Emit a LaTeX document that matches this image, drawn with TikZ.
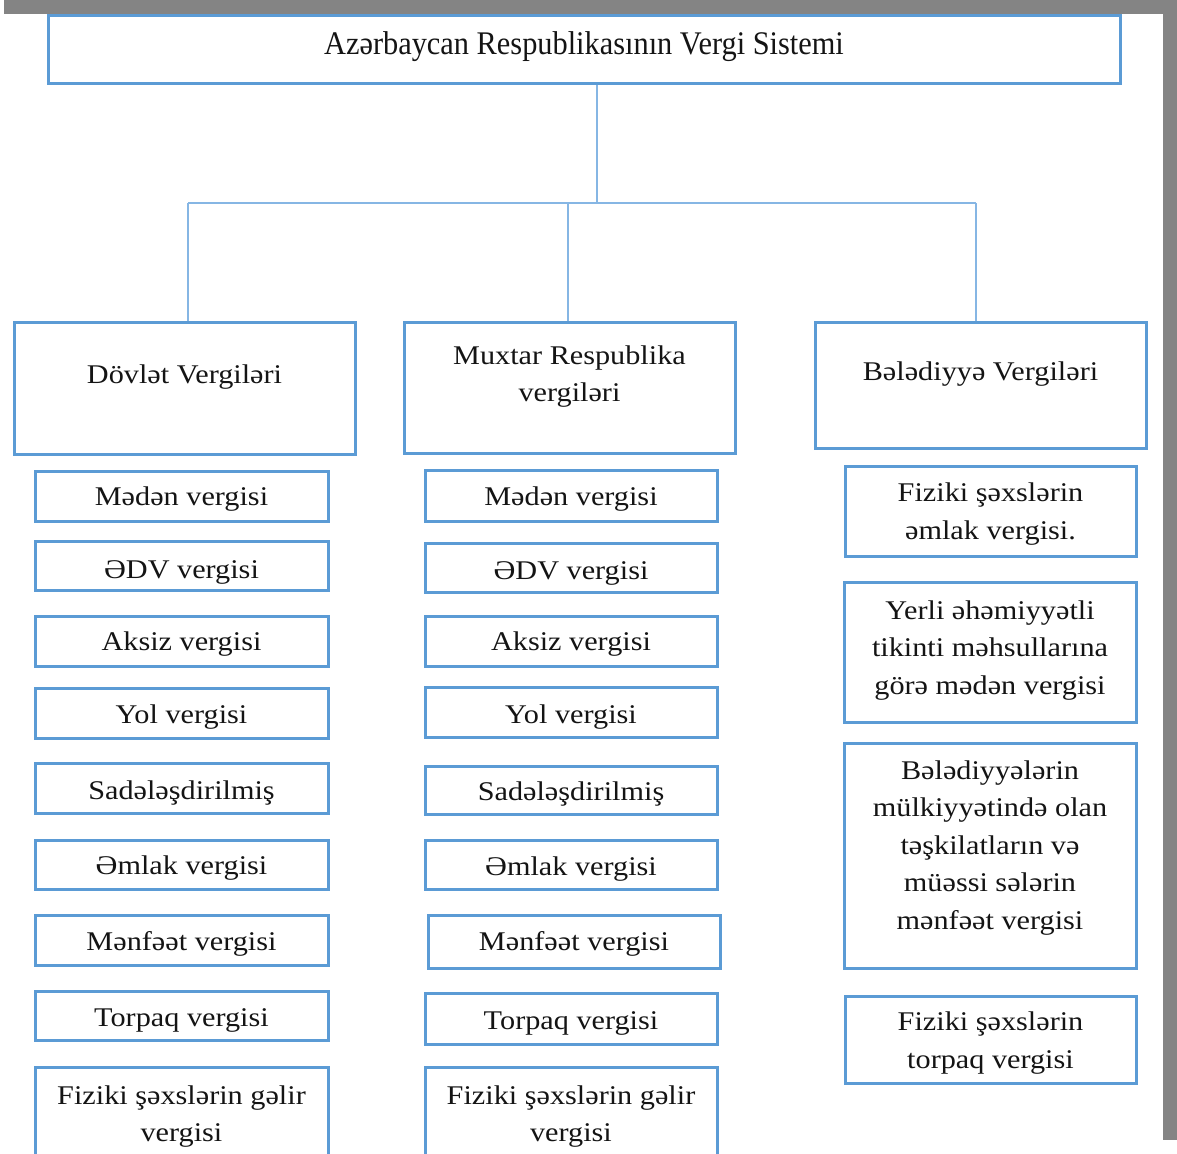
\documentclass[tikz,border=0pt]{standalone}
\usepackage{fontspec}
\setmainfont{Liberation Serif}
\newfontfamily\boxfont[FakeStretch=1.12]{Liberation Serif}
\newfontfamily\titlefont[FakeStretch=0.92]{Liberation Serif}
\definecolor{bxblue}{HTML}{5B9BD5}
\definecolor{lnblue}{HTML}{86B6E4}
\definecolor{framegray}{HTML}{848484}
\definecolor{ink}{HTML}{141414}
\tikzset{
  bx/.style={draw=bxblue, line width=3pt, fill=white, inner sep=0pt},
  txt/.style={text=ink, align=center, inner sep=0pt,
    font=\boxfont\fontsize{27}{37.5}\selectfont},
  ttl/.style={text=ink, align=center, inner sep=0pt,
    font=\titlefont\fontsize{33}{40}\selectfont},
  conn/.style={draw=lnblue, line width=2pt},
}
\newcommand\boxat[5]{%
  \pgfmathsetmacro\bw{#4-#2}\pgfmathsetmacro\bh{#5-#3}%
  \pgfmathsetmacro\bcx{(#2+#4)/2}\pgfmathsetmacro\bcy{(#3+#5)/2}%
  \node[bx, minimum width=\bw pt, minimum height=\bh pt] (#1) at (\bcx,\bcy) {};}
\newcommand\textat[3]{\node[txt] (#1-t) at (#1.center |- 0,#2+3) {#3};}
\begin{document}
\begin{tikzpicture}[x=1pt,y=-1pt]
\useasboundingbox (0,0) rectangle (1177,1153);
\clip (0,0) rectangle (1177,1153);
\fill[white] (0,0) rectangle (1177,1153);
\fill[framegray] (4,0) rectangle (1177,14);
\fill[framegray] (1163,0) rectangle (1177,1140);

% title
\boxat{title}{48}{16}{1120}{84}
\node[ttl] (title-t) at (584,47) {Azərbaycan Respublikasının Vergi Sistemi};

% headers
\boxat{dov}{14}{322}{355}{454}
\textat{dov}{374}{Dövlət Vergiləri}
\boxat{mux}{404}{322}{735}{453}
\textat{mux}{373.5}{Muxtar Respublika\\vergiləri}
\boxat{bel}{815}{322}{1146}{448}
\textat{bel}{371}{Bələdiyyə Vergiləri}

% connectors
\coordinate (hub) at (597,203);
\coordinate (jl) at (188,203);
\coordinate (jm) at (568,203);
\coordinate (jr) at (976,203);
\draw[conn] (hub |- title.south) -- (hub);
\draw[conn] (jl) -- (jr);
\draw[conn] (jl) -- (jl |- dov.north);
\draw[conn] (jm) -- (jm |- mux.north);
\draw[conn] (jr) -- (jr |- bel.north);

% left column
\boxat{l1}{35}{471}{328}{521}   \textat{l1}{496}{Mədən vergisi}
\boxat{l2}{35}{541}{328}{590}   \textat{l2}{569}{ƏDV vergisi}
\boxat{l3}{35}{616}{328}{666}   \textat{l3}{641}{Aksiz vergisi}
\boxat{l4}{35}{688}{328}{738}   \textat{l4}{714}{Yol vergisi}
\boxat{l5}{35}{763}{328}{813}   \textat{l5}{790}{Sadələşdirilmiş}
\boxat{l6}{35}{840}{328}{889}   \textat{l6}{865}{Əmlak vergisi}
\boxat{l7}{35}{915}{328}{965}   \textat{l7}{941}{Mənfəət vergisi}
\boxat{l8}{35}{991}{328}{1040}  \textat{l8}{1017}{Torpaq vergisi}
\boxat{l9}{35}{1067}{328}{1172} \textat{l9}{1113.5}{Fiziki şəxslərin gəlir\\vergisi}

% middle column
\boxat{m1}{425}{470}{717}{521}   \textat{m1}{496}{Mədən vergisi}
\boxat{m2}{425}{543}{717}{592}   \textat{m2}{570}{ƏDV vergisi}
\boxat{m3}{425}{616}{717}{666}   \textat{m3}{641}{Aksiz vergisi}
\boxat{m4}{425}{687}{717}{737}   \textat{m4}{714}{Yol vergisi}
\boxat{m5}{425}{766}{717}{814}   \textat{m5}{791}{Sadələşdirilmiş}
\boxat{m6}{425}{840}{717}{889}   \textat{m6}{866}{Əmlak vergisi}
\boxat{m7}{428}{915}{720}{968}   \textat{m7}{941}{Mənfəət vergisi}
\boxat{m8}{425}{993}{717}{1044}  \textat{m8}{1020}{Torpaq vergisi}
\boxat{m9}{425}{1067}{717}{1172} \textat{m9}{1113.5}{Fiziki şəxslərin gəlir\\vergisi}

% right column
\boxat{r1}{845}{466}{1136}{556}  \textat{r1}{511}{Fiziki şəxslərin\\əmlak vergisi.}
\boxat{r2}{844}{582}{1136}{722}  \textat{r2}{647.5}{Yerli əhəmiyyətli\\tikinti məhsullarına\\görə mədən vergisi}
\boxat{r3}{844}{743}{1136}{968}  \textat{r3}{845}{Bələdiyyələrin\\mülkiyyətində olan\\təşkilatların və\\müəssi sələrin\\mənfəət vergisi}
\boxat{r4}{845}{996}{1136}{1083} \textat{r4}{1040}{Fiziki şəxslərin\\torpaq vergisi}
\end{tikzpicture}
\end{document}
